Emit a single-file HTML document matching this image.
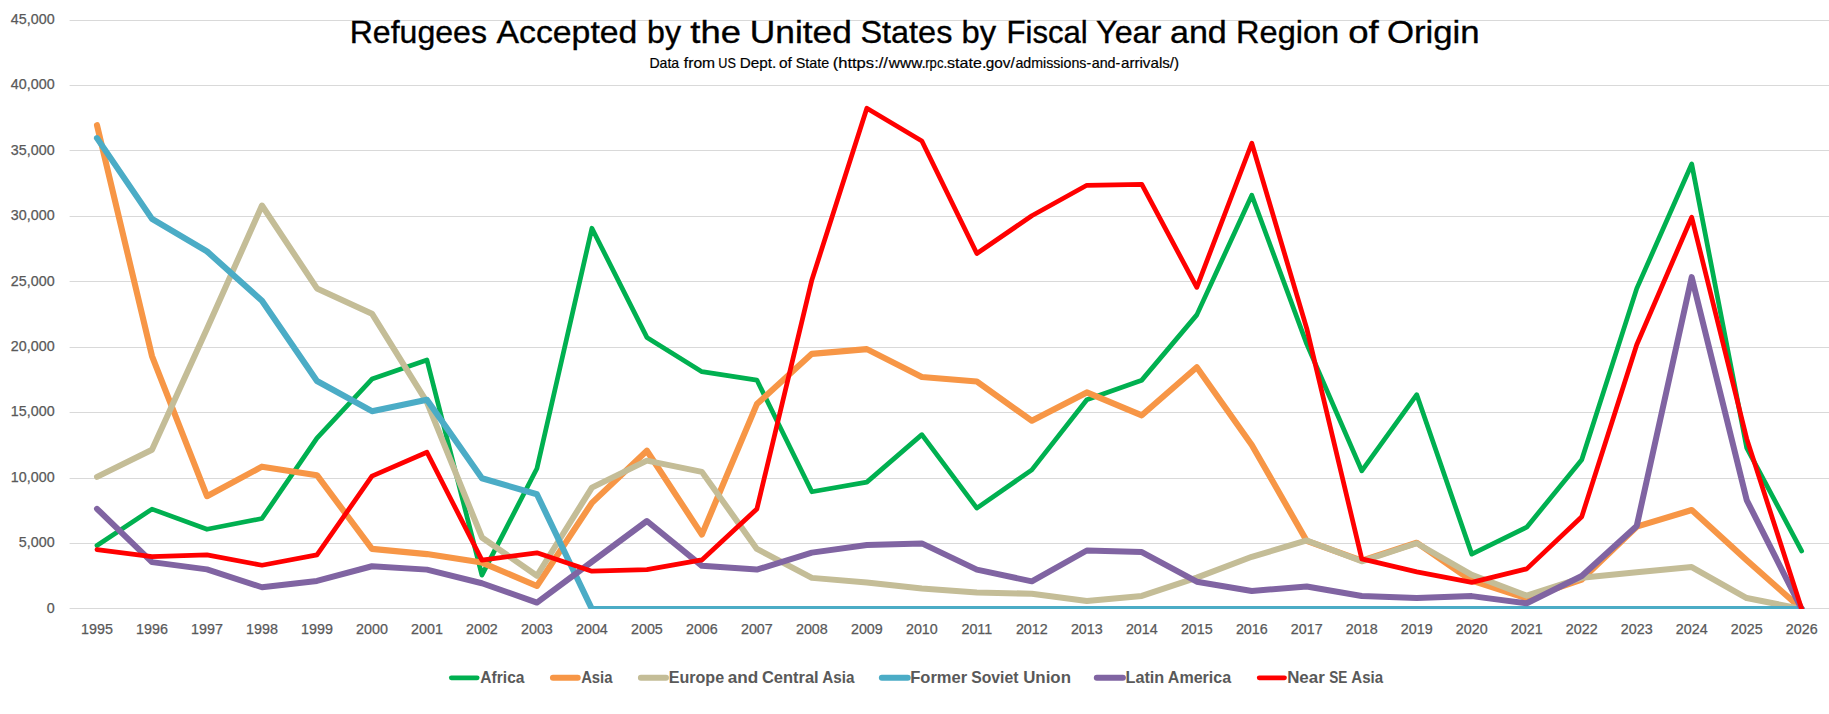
<!DOCTYPE html>
<html><head><meta charset="utf-8"><title>Refugees Accepted by the United States</title>
<style>html,body{margin:0;padding:0;background:#fff;}svg{display:block;}text{font-family:"Liberation Sans",sans-serif;}</style></head><body>
<svg width="1829" height="714" viewBox="0 0 1829 714">
<rect width="1829" height="714" fill="#fff"/>
<defs><clipPath id="pa"><rect x="60" y="0" width="1769" height="609"/></clipPath></defs>
<line x1="69.6" x2="1829" y1="608.50" y2="608.50" stroke="#D9D9D9" stroke-width="1"/>
<line x1="69.6" x2="1829" y1="543.50" y2="543.50" stroke="#D9D9D9" stroke-width="1"/>
<line x1="69.6" x2="1829" y1="478.50" y2="478.50" stroke="#D9D9D9" stroke-width="1"/>
<line x1="69.6" x2="1829" y1="412.50" y2="412.50" stroke="#D9D9D9" stroke-width="1"/>
<line x1="69.6" x2="1829" y1="347.50" y2="347.50" stroke="#D9D9D9" stroke-width="1"/>
<line x1="69.6" x2="1829" y1="281.50" y2="281.50" stroke="#D9D9D9" stroke-width="1"/>
<line x1="69.6" x2="1829" y1="216.50" y2="216.50" stroke="#D9D9D9" stroke-width="1"/>
<line x1="69.6" x2="1829" y1="150.50" y2="150.50" stroke="#D9D9D9" stroke-width="1"/>
<line x1="69.6" x2="1829" y1="85.50" y2="85.50" stroke="#D9D9D9" stroke-width="1"/>
<line x1="69.6" x2="1829" y1="20.50" y2="20.50" stroke="#D9D9D9" stroke-width="1"/>
<text x="54.6" y="612.60" font-size="14.3" fill="#595959" stroke="#595959" stroke-width="0.25" text-anchor="end">0</text>
<text x="54.6" y="547.18" font-size="14.3" fill="#595959" stroke="#595959" stroke-width="0.25" text-anchor="end">5,000</text>
<text x="54.6" y="481.76" font-size="14.3" fill="#595959" stroke="#595959" stroke-width="0.25" text-anchor="end">10,000</text>
<text x="54.6" y="416.34" font-size="14.3" fill="#595959" stroke="#595959" stroke-width="0.25" text-anchor="end">15,000</text>
<text x="54.6" y="350.92" font-size="14.3" fill="#595959" stroke="#595959" stroke-width="0.25" text-anchor="end">20,000</text>
<text x="54.6" y="285.50" font-size="14.3" fill="#595959" stroke="#595959" stroke-width="0.25" text-anchor="end">25,000</text>
<text x="54.6" y="220.08" font-size="14.3" fill="#595959" stroke="#595959" stroke-width="0.25" text-anchor="end">30,000</text>
<text x="54.6" y="154.66" font-size="14.3" fill="#595959" stroke="#595959" stroke-width="0.25" text-anchor="end">35,000</text>
<text x="54.6" y="89.24" font-size="14.3" fill="#595959" stroke="#595959" stroke-width="0.25" text-anchor="end">40,000</text>
<text x="54.6" y="23.82" font-size="14.3" fill="#595959" stroke="#595959" stroke-width="0.25" text-anchor="end">45,000</text>
<text x="97.00" y="633.6" font-size="14.3" fill="#595959" stroke="#595959" stroke-width="0.25" text-anchor="middle">1995</text>
<text x="151.99" y="633.6" font-size="14.3" fill="#595959" stroke="#595959" stroke-width="0.25" text-anchor="middle">1996</text>
<text x="206.98" y="633.6" font-size="14.3" fill="#595959" stroke="#595959" stroke-width="0.25" text-anchor="middle">1997</text>
<text x="261.97" y="633.6" font-size="14.3" fill="#595959" stroke="#595959" stroke-width="0.25" text-anchor="middle">1998</text>
<text x="316.96" y="633.6" font-size="14.3" fill="#595959" stroke="#595959" stroke-width="0.25" text-anchor="middle">1999</text>
<text x="371.95" y="633.6" font-size="14.3" fill="#595959" stroke="#595959" stroke-width="0.25" text-anchor="middle">2000</text>
<text x="426.94" y="633.6" font-size="14.3" fill="#595959" stroke="#595959" stroke-width="0.25" text-anchor="middle">2001</text>
<text x="481.93" y="633.6" font-size="14.3" fill="#595959" stroke="#595959" stroke-width="0.25" text-anchor="middle">2002</text>
<text x="536.92" y="633.6" font-size="14.3" fill="#595959" stroke="#595959" stroke-width="0.25" text-anchor="middle">2003</text>
<text x="591.91" y="633.6" font-size="14.3" fill="#595959" stroke="#595959" stroke-width="0.25" text-anchor="middle">2004</text>
<text x="646.90" y="633.6" font-size="14.3" fill="#595959" stroke="#595959" stroke-width="0.25" text-anchor="middle">2005</text>
<text x="701.89" y="633.6" font-size="14.3" fill="#595959" stroke="#595959" stroke-width="0.25" text-anchor="middle">2006</text>
<text x="756.88" y="633.6" font-size="14.3" fill="#595959" stroke="#595959" stroke-width="0.25" text-anchor="middle">2007</text>
<text x="811.87" y="633.6" font-size="14.3" fill="#595959" stroke="#595959" stroke-width="0.25" text-anchor="middle">2008</text>
<text x="866.86" y="633.6" font-size="14.3" fill="#595959" stroke="#595959" stroke-width="0.25" text-anchor="middle">2009</text>
<text x="921.85" y="633.6" font-size="14.3" fill="#595959" stroke="#595959" stroke-width="0.25" text-anchor="middle">2010</text>
<text x="976.84" y="633.6" font-size="14.3" fill="#595959" stroke="#595959" stroke-width="0.25" text-anchor="middle">2011</text>
<text x="1031.83" y="633.6" font-size="14.3" fill="#595959" stroke="#595959" stroke-width="0.25" text-anchor="middle">2012</text>
<text x="1086.82" y="633.6" font-size="14.3" fill="#595959" stroke="#595959" stroke-width="0.25" text-anchor="middle">2013</text>
<text x="1141.81" y="633.6" font-size="14.3" fill="#595959" stroke="#595959" stroke-width="0.25" text-anchor="middle">2014</text>
<text x="1196.80" y="633.6" font-size="14.3" fill="#595959" stroke="#595959" stroke-width="0.25" text-anchor="middle">2015</text>
<text x="1251.79" y="633.6" font-size="14.3" fill="#595959" stroke="#595959" stroke-width="0.25" text-anchor="middle">2016</text>
<text x="1306.78" y="633.6" font-size="14.3" fill="#595959" stroke="#595959" stroke-width="0.25" text-anchor="middle">2017</text>
<text x="1361.77" y="633.6" font-size="14.3" fill="#595959" stroke="#595959" stroke-width="0.25" text-anchor="middle">2018</text>
<text x="1416.76" y="633.6" font-size="14.3" fill="#595959" stroke="#595959" stroke-width="0.25" text-anchor="middle">2019</text>
<text x="1471.75" y="633.6" font-size="14.3" fill="#595959" stroke="#595959" stroke-width="0.25" text-anchor="middle">2020</text>
<text x="1526.74" y="633.6" font-size="14.3" fill="#595959" stroke="#595959" stroke-width="0.25" text-anchor="middle">2021</text>
<text x="1581.73" y="633.6" font-size="14.3" fill="#595959" stroke="#595959" stroke-width="0.25" text-anchor="middle">2022</text>
<text x="1636.72" y="633.6" font-size="14.3" fill="#595959" stroke="#595959" stroke-width="0.25" text-anchor="middle">2023</text>
<text x="1691.71" y="633.6" font-size="14.3" fill="#595959" stroke="#595959" stroke-width="0.25" text-anchor="middle">2024</text>
<text x="1746.70" y="633.6" font-size="14.3" fill="#595959" stroke="#595959" stroke-width="0.25" text-anchor="middle">2025</text>
<text x="1801.69" y="633.6" font-size="14.3" fill="#595959" stroke="#595959" stroke-width="0.25" text-anchor="middle">2026</text>
<g clip-path="url(#pa)" fill="none" stroke-linecap="round" stroke-linejoin="round">
<polyline stroke="#00B050" stroke-width="4.75" points="97.00,545.43 151.99,509.14 206.98,529.25 261.97,518.51 316.96,438.07 371.95,379.04 426.94,359.97 481.93,575.17 536.92,468.50 591.91,228.21 646.90,337.43 701.89,371.65 756.88,380.06 811.87,491.75 866.86,482.15 921.85,434.65 976.84,508.08 1031.83,469.89 1086.82,399.69 1141.81,380.15 1196.80,314.87 1251.79,195.28 1306.78,344.14 1361.77,470.78 1416.76,394.65 1471.75,554.14 1526.74,527.24 1581.73,459.70 1636.72,288.61 1691.71,164.01 1746.70,447.78 1801.69,551.01"/>
<polyline stroke="#F79646" stroke-width="6.1" points="97.00,125.20 151.99,356.04 206.98,496.21 261.97,466.67 316.96,475.14 371.95,548.90 426.94,554.10 481.93,562.61 536.92,585.97 591.91,502.87 646.90,450.71 701.89,534.56 756.88,404.10 811.87,353.84 866.86,349.13 921.85,377.01 976.84,381.57 1031.83,420.78 1086.82,392.42 1141.81,415.32 1196.80,367.17 1251.79,444.93 1306.78,540.91 1361.77,560.57 1416.76,542.77 1471.75,580.68 1526.74,598.36 1581.73,579.56 1636.72,526.68 1691.71,509.98 1746.70,560.15 1801.69,609.00"/>
<polyline stroke="#C4BD97" stroke-width="6.0" points="97.00,476.92 151.99,449.81 206.98,328.86 261.97,205.50 316.96,288.41 371.95,313.70 426.94,402.13 481.93,537.43 536.92,575.75 591.91,487.58 646.90,460.64 701.89,471.87 756.88,548.92 811.87,577.88 866.86,582.41 921.85,588.56 976.84,592.45 1031.83,593.75 1086.82,600.92 1141.81,595.97 1196.80,577.62 1251.79,556.80 1306.78,540.49 1361.77,561.30 1416.76,543.25 1471.75,574.81 1526.74,595.66 1581.73,577.78 1636.72,572.23 1691.71,567.03 1746.70,598.05 1801.69,609.00"/>
<polyline stroke="#4BACC6" stroke-width="6.1" points="97.00,138.10 151.99,218.90 206.98,251.37 261.97,300.69 316.96,381.01 371.95,411.15 426.94,399.72 481.93,478.24 536.92,494.25 591.91,609.00 646.90,609.00 701.89,609.00 756.88,609.00 811.87,609.00 866.86,609.00 921.85,609.00 976.84,609.00 1031.83,609.00 1086.82,609.00 1141.81,609.00 1196.80,609.00 1251.79,609.00 1306.78,609.00 1361.77,609.00 1416.76,609.00 1471.75,609.00 1526.74,609.00 1581.73,609.00 1636.72,609.00 1691.71,609.00 1746.70,609.00 1801.69,609.00"/>
<polyline stroke="#8064A2" stroke-width="6.0" points="97.00,508.81 151.99,562.11 206.98,569.35 261.97,587.24 316.96,580.93 371.95,566.27 426.94,569.63 481.93,583.23 536.92,602.55 591.91,561.76 646.90,520.97 701.89,565.85 756.88,569.61 811.87,552.61 866.86,545.04 921.85,543.40 976.84,569.61 1031.83,581.35 1086.82,550.50 1141.81,552.08 1196.80,581.71 1251.79,590.99 1306.78,586.44 1361.77,596.02 1416.76,597.93 1471.75,596.11 1526.74,603.27 1581.73,576.03 1636.72,526.02 1691.71,277.16 1746.70,500.05 1801.69,609.00"/>
<polyline stroke="#FF0000" stroke-width="4.75" points="97.00,549.57 151.99,556.66 206.98,554.91 261.97,565.21 316.96,554.95 371.95,476.15 426.94,452.22 481.93,560.07 536.92,552.84 591.91,571.21 646.90,569.60 701.89,559.92 756.88,508.93 811.87,279.91 866.86,108.31 921.85,140.95 976.84,253.50 1031.83,215.76 1086.82,185.27 1141.81,184.49 1196.80,287.33 1251.79,143.26 1306.78,328.64 1361.77,558.89 1416.76,571.90 1471.75,582.38 1526.74,568.87 1581.73,516.69 1636.72,344.78 1691.71,217.22 1746.70,438.63 1801.69,609.00"/>
</g>
<text y="43.0" font-size="31.5" fill="#000" stroke="#000" stroke-width="0.35"><tspan x="349.67" textLength="137.29" lengthAdjust="spacingAndGlyphs">Refugees</tspan> <tspan x="496.53" textLength="140.84" lengthAdjust="spacingAndGlyphs">Accepted</tspan> <tspan x="647.13" textLength="33.93" lengthAdjust="spacingAndGlyphs">by</tspan> <tspan x="690.35" textLength="50.67" lengthAdjust="spacingAndGlyphs">the</tspan> <tspan x="749.77" textLength="102.10" lengthAdjust="spacingAndGlyphs">United</tspan> <tspan x="860.43" textLength="91.94" lengthAdjust="spacingAndGlyphs">States</tspan> <tspan x="961.49" textLength="34.57" lengthAdjust="spacingAndGlyphs">by</tspan> <tspan x="1006.44" textLength="81.34" lengthAdjust="spacingAndGlyphs">Fiscal</tspan> <tspan x="1096.09" textLength="65.25" lengthAdjust="spacingAndGlyphs">Year</tspan> <tspan x="1169.95" textLength="56.84" lengthAdjust="spacingAndGlyphs">and</tspan> <tspan x="1236.03" textLength="103.19" lengthAdjust="spacingAndGlyphs">Region</tspan> <tspan x="1348.27" textLength="30.48" lengthAdjust="spacingAndGlyphs">of</tspan> <tspan x="1386.95" textLength="92.70" lengthAdjust="spacingAndGlyphs">Origin</tspan></text>
<text y="68.1" font-size="14.3" fill="#000" stroke="#000" stroke-width="0.2"><tspan x="649.44" textLength="29.76" lengthAdjust="spacingAndGlyphs">Data</tspan> <tspan x="683.88" textLength="31.25" lengthAdjust="spacingAndGlyphs">from</tspan> <tspan x="718.33" textLength="17.55" lengthAdjust="spacingAndGlyphs">US</tspan> <tspan x="739.75" textLength="36.55" lengthAdjust="spacingAndGlyphs">Dept.</tspan> <tspan x="778.95" textLength="12.93" lengthAdjust="spacingAndGlyphs">of</tspan> <tspan x="795.65" textLength="33.49" lengthAdjust="spacingAndGlyphs">State</tspan> <tspan x="832.67" textLength="55.33" lengthAdjust="spacingAndGlyphs">(https://</tspan><tspan x="888.82" textLength="36.99" lengthAdjust="spacingAndGlyphs">www.</tspan><tspan x="925.23" textLength="21.87" lengthAdjust="spacingAndGlyphs">rpc.</tspan><tspan x="947.05" textLength="39.32" lengthAdjust="spacingAndGlyphs">state.</tspan><tspan x="985.75" textLength="29.05" lengthAdjust="spacingAndGlyphs">gov/</tspan><tspan x="1015.40" textLength="75.73" lengthAdjust="spacingAndGlyphs">admissions-</tspan><tspan x="1091.69" textLength="28.64" lengthAdjust="spacingAndGlyphs">and-</tspan><tspan x="1120.96" textLength="58.19" lengthAdjust="spacingAndGlyphs">arrivals/)</tspan></text>
<line x1="451.3" x2="477.2" y1="677.8" y2="677.8" stroke="#00B050" stroke-width="4.75" stroke-linecap="round"/>
<text y="682.6" font-size="16.2" fill="#595959" font-weight="bold"><tspan x="480.31" textLength="44.19" lengthAdjust="spacingAndGlyphs">Africa</tspan></text>
<line x1="553.0" x2="577.7" y1="677.8" y2="677.8" stroke="#F79646" stroke-width="6.1" stroke-linecap="round"/>
<text y="682.6" font-size="16.2" fill="#595959" font-weight="bold"><tspan x="581.13" textLength="31.38" lengthAdjust="spacingAndGlyphs">Asia</tspan></text>
<line x1="640.9" x2="666.0" y1="677.8" y2="677.8" stroke="#C4BD97" stroke-width="6.0" stroke-linecap="round"/>
<text y="682.6" font-size="16.2" fill="#595959" font-weight="bold"><tspan x="668.72" textLength="55.43" lengthAdjust="spacingAndGlyphs">Europe</tspan> <tspan x="727.70" textLength="30.54" lengthAdjust="spacingAndGlyphs">and</tspan> <tspan x="761.92" textLength="56.74" lengthAdjust="spacingAndGlyphs">Central</tspan> <tspan x="822.32" textLength="32.18" lengthAdjust="spacingAndGlyphs">Asia</tspan></text>
<line x1="881.9" x2="907.7" y1="677.8" y2="677.8" stroke="#4BACC6" stroke-width="6.1" stroke-linecap="round"/>
<text y="682.6" font-size="16.2" fill="#595959" font-weight="bold"><tspan x="910.19" textLength="56.96" lengthAdjust="spacingAndGlyphs">Former</tspan> <tspan x="971.25" textLength="47.25" lengthAdjust="spacingAndGlyphs">Soviet</tspan> <tspan x="1023.19" textLength="47.76" lengthAdjust="spacingAndGlyphs">Union</tspan></text>
<line x1="1096.8" x2="1122.9" y1="677.8" y2="677.8" stroke="#8064A2" stroke-width="6.0" stroke-linecap="round"/>
<text y="682.6" font-size="16.2" fill="#595959" font-weight="bold"><tspan x="1125.51" textLength="38.79" lengthAdjust="spacingAndGlyphs">Latin</tspan> <tspan x="1167.80" textLength="63.30" lengthAdjust="spacingAndGlyphs">America</tspan></text>
<line x1="1259.2" x2="1284.5" y1="677.8" y2="677.8" stroke="#FF0000" stroke-width="4.75" stroke-linecap="round"/>
<text y="682.6" font-size="16.2" fill="#595959" font-weight="bold"><tspan x="1287.17" textLength="37.59" lengthAdjust="spacingAndGlyphs">Near</tspan> <tspan x="1329.31" textLength="18.12" lengthAdjust="spacingAndGlyphs">SE</tspan> <tspan x="1351.33" textLength="31.78" lengthAdjust="spacingAndGlyphs">Asia</tspan></text>
</svg></body></html>
